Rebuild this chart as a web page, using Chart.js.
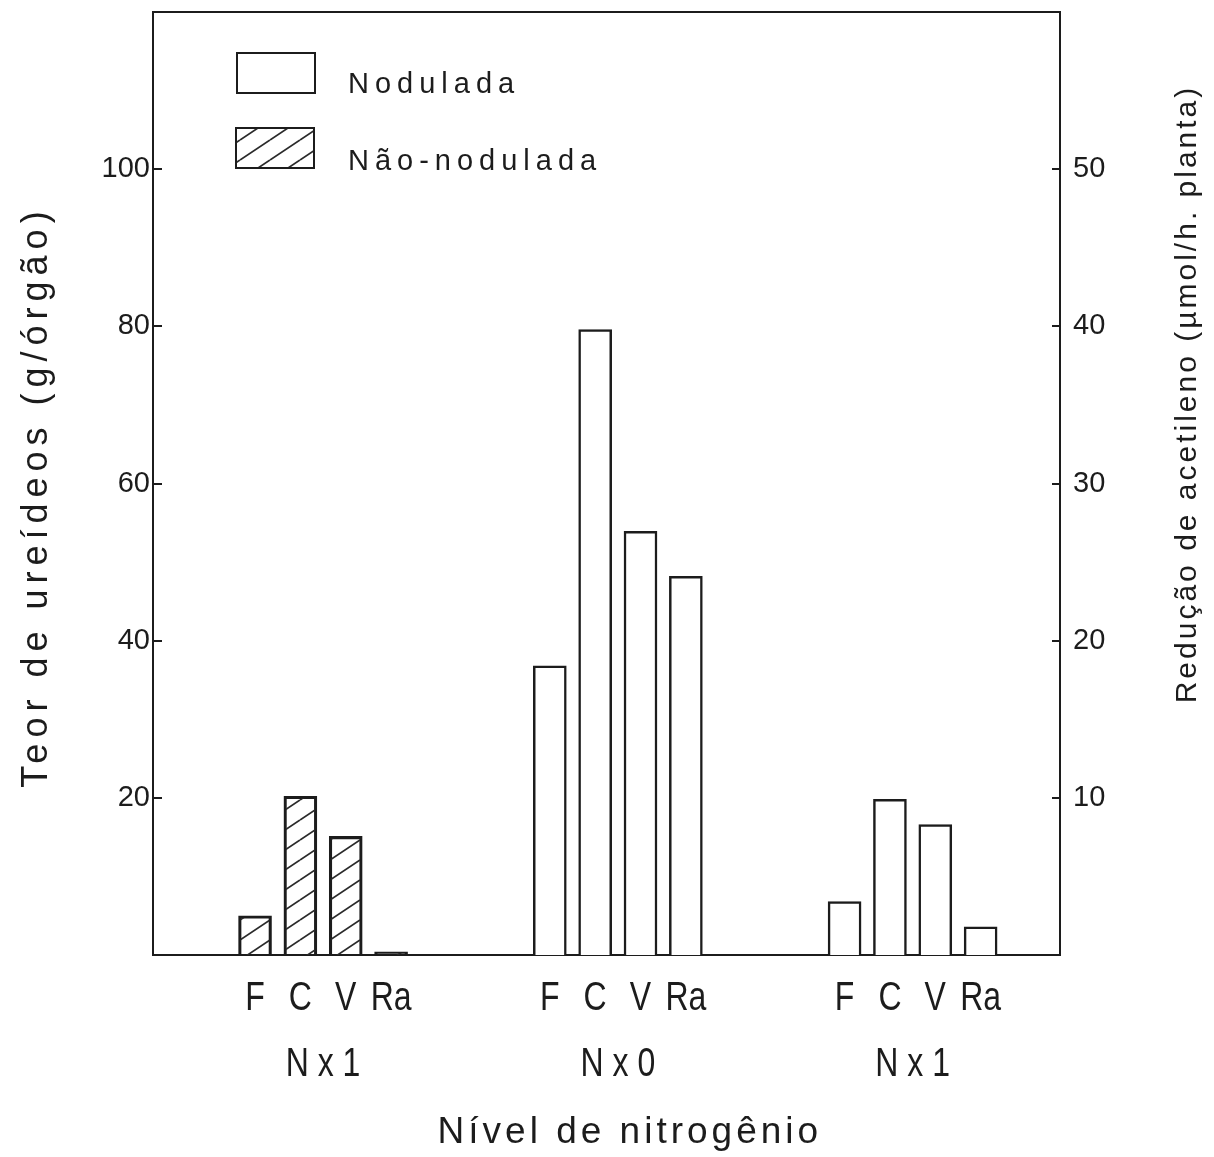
<!DOCTYPE html>
<html lang="pt">
<head>
<meta charset="utf-8">
<title>Teor de ureídeos e redução de acetileno</title>
<script src="https://cdn.jsdelivr.net/npm/chart.js@4.4.1/dist/chart.umd.min.js"></script>
<style>
  html, body { margin: 0; padding: 0; background: #fff; }
  #wrap { width: 1214px; height: 1157px; }
</style>
</head>
<body>
<div id="wrap"><canvas id="grafico" width="1214" height="1157"></canvas></div>
<script>
// órgãos e níveis de nitrogênio
const organs = ['F', 'C', 'V', 'Ra'];
const levels = ['N x 1', 'N x 0', 'N x 1'];

// teor de ureídeos (g/órgão) por órgão, na ordem F, C, V, Ra
const naoNoduladaNx1 = [5.0, 20.2, 15.1, 0.4];
const noduladaNx0 = [36.8, 79.6, 53.9, 48.2];
const noduladaNx1 = [6.8, 19.8, 16.6, 3.6];

// marcas dos eixos
const yTicks = [20, 40, 60, 80, 100];
const y2Ticks = [10, 20, 30, 40, 50];

const ink = '#1c1c1c';
const chartFont = "'Liberation Sans', 'DejaVu Sans', sans-serif";

// each bar sits on its own slot of the category axis, empty slots keep the gaps
const SLOTS = 40;
const groupStart = [4, 17, 30];
const STEP = 2;

const groups = [
  { level: levels[0], values: naoNoduladaNx1, nodulada: false },
  { level: levels[1], values: noduladaNx0, nodulada: true },
  { level: levels[2], values: noduladaNx1, nodulada: true },
];

const slotLabels = new Array(SLOTS).fill('');
const nodData = new Array(SLOTS).fill(null);
const naoData = new Array(SLOTS).fill(null);
groups.forEach((g, gi) => {
  organs.forEach((o, oi) => {
    const s = groupStart[gi] + oi * STEP;
    slotLabels[s] = o;
    (g.nodulada ? nodData : naoData)[s] = g.values[oi];
  });
});

const ctx = document.getElementById('grafico').getContext('2d');

// hachura diagonal "/" para as plantas não-noduladas
function makeHatch() {
  const w = 30;
  const h = 20;
  const c = document.createElement('canvas');
  c.width = w;
  c.height = h;
  const g = c.getContext('2d');
  g.strokeStyle = '#2a2a2a';
  g.lineWidth = 1.7;
  g.beginPath();
  [-h, 0, h].forEach((dy) => {
    g.moveTo(0, h + dy);
    g.lineTo(w, dy);
  });
  g.stroke();
  return ctx.createPattern(c, 'repeat');
}
const hatch = makeHatch();

// narrow lettering: squeeze the text horizontally around its anchor
function narrowText(ctx, text, x, y, squeeze) {
  ctx.save();
  ctx.translate(x, y);
  ctx.scale(squeeze, 1);
  ctx.fillText(text, 0, 0);
  ctx.restore();
}

const figureText = {
  id: 'figureText',
  afterDraw(chart) {
    const { ctx, chartArea: a, scales } = chart;
    const x = scales.x;
    ctx.save();

    // top edge of the frame
    ctx.strokeStyle = ink;
    ctx.lineWidth = 2;
    ctx.beginPath();
    ctx.moveTo(a.left, a.top);
    ctx.lineTo(a.right, a.top);
    ctx.stroke();

    // legend boxes inside the plot
    const boxes = [
      { text: 'Nodulada', fill: '#fff', x: a.left + 84, y: a.top + 41, base: a.top + 81 },
      { text: 'Não-nodulada', fill: hatch, x: a.left + 83, y: a.top + 116, base: a.top + 158 },
    ];
    boxes.forEach((b) => {
      ctx.fillStyle = b.fill;
      ctx.fillRect(b.x, b.y, 78, 40);
      ctx.strokeStyle = ink;
      ctx.lineWidth = 2;
      ctx.strokeRect(b.x, b.y, 78, 40);
      ctx.fillStyle = ink;
      ctx.font = `29px ${chartFont}`;
      ctx.letterSpacing = '6px';
      ctx.textAlign = 'left';
      ctx.textBaseline = 'alphabetic';
      ctx.fillText(b.text, a.left + 195, b.base);
    });

    // organ letters under each bar, then the nitrogen level under each group
    ctx.font = `40px ${chartFont}`;
    ctx.letterSpacing = '0px';
    ctx.textAlign = 'center';
    slotLabels.forEach((lab, i) => {
      if (lab) narrowText(ctx, lab, x.getPixelForValue(i), a.bottom + 55, 0.8);
    });
    groups.forEach((g, gi) => {
      const cx = x.getPixelForValue(groupStart[gi] + 1.5 * STEP);
      narrowText(ctx, g.level, cx, a.bottom + 121, 0.8);
    });

    // x title
    ctx.font = `37px ${chartFont}`;
    ctx.letterSpacing = '4px';
    ctx.fillText('Nível de nitrogênio', x.getPixelForValue(groupStart[1] + 1.5 * STEP) + 12, a.bottom + 188);

    // y titles, both read from bottom to top
    ctx.textBaseline = 'middle';
    ctx.save();
    ctx.translate(37, (a.top + a.bottom) / 2 + 13);
    ctx.rotate(-Math.PI / 2);
    ctx.font = `36px ${chartFont}`;
    ctx.letterSpacing = '6px';
    ctx.fillText('Teor de ureídeos (g/órgão)', 0, 0);
    ctx.restore();

    ctx.save();
    ctx.translate(1188, a.top + 382);
    ctx.rotate(-Math.PI / 2);
    ctx.font = `30px ${chartFont}`;
    ctx.letterSpacing = '3px';
    ctx.fillText('Redução de acetileno (µmol/h. planta)', 0, 0);
    ctx.restore();

    ctx.restore();
  },
};

function noEdgePadding(scale) {
  scale.paddingTop = 0;
  scale.paddingBottom = 0;
  scale.paddingLeft = 0;
  scale.paddingRight = 0;
}

const chart = new Chart(ctx, {
  type: 'bar',
  data: {
    labels: slotLabels,
    datasets: [
      {
        label: 'Nodulada',
        data: nodData,
        backgroundColor: '#fff',
        borderColor: ink,
        borderWidth: 2.5,
        barThickness: 33,
        grouped: false,
      },
      {
        label: 'Não-nodulada',
        data: naoData,
        backgroundColor: hatch,
        borderColor: ink,
        borderWidth: 2.5,
        barThickness: 33,
        grouped: false,
      },
    ],
  },
  plugins: [figureText],
  options: {
    responsive: false,
    animation: false,
    layout: { padding: { top: 12, left: 0, right: 0, bottom: 0 } },
    plugins: {
      legend: { display: false },
      tooltip: { enabled: false },
    },
    scales: {
      x: {
        grid: { display: false },
        border: { display: true, color: ink, width: 2 },
        ticks: { display: false },
        afterFit(scale) {
          noEdgePadding(scale);
          scale.height = 202;
        },
      },
      y: {
        position: 'left',
        min: 0,
        max: 120,
        grid: { drawOnChartArea: false, drawTicks: true, tickLength: -9, color: ink, lineWidth: 2 },
        border: { display: true, color: ink, width: 2 },
        ticks: { padding: 12, color: ink, font: { family: chartFont, size: 29 } },
        afterBuildTicks(scale) { scale.ticks = yTicks.map((v) => ({ value: v })); },
        afterFit(scale) {
          noEdgePadding(scale);
          scale.width = 153;
        },
      },
      y2: {
        position: 'right',
        min: 0,
        max: 60,
        grid: { drawOnChartArea: false, drawTicks: true, tickLength: -8, color: ink, lineWidth: 2 },
        border: { display: true, color: ink, width: 2 },
        ticks: { padding: 21, color: ink, font: { family: chartFont, size: 29 } },
        afterBuildTicks(scale) { scale.ticks = y2Ticks.map((v) => ({ value: v })); },
        afterFit(scale) {
          noEdgePadding(scale);
          scale.width = 154;
        },
      },
    },
  },
});
</script>
</body>
</html>
